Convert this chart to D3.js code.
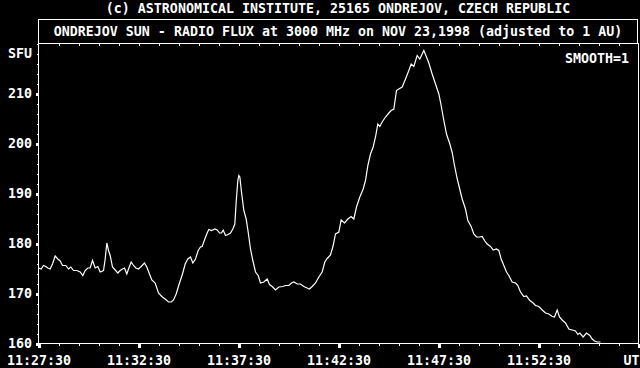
<!DOCTYPE html>
<html><head><meta charset="utf-8">
<script src="https://cdn.jsdelivr.net/npm/d3@7"></script>
<style>
html,body{margin:0;padding:0;background:#000;}
svg{display:block;}
text{font-family:"DejaVu Sans Mono",monospace;font-weight:bold;font-size:13.3px;fill:#fff;}
</style></head>
<body>
<svg id="c" width="640" height="368"></svg>
<script>
const credit = "(c) ASTRONOMICAL INSTITUTE, 25165 ONDREJOV, CZECH REPUBLIC";
const title = "ONDREJOV SUN - RADIO FLUX at 3000 MHz on NOV 23,1998 (adjusted to 1 AU)";
const yUnit = "SFU";
const xUnit = "UT";
const smoothLabel = "SMOOTH=1";
const timeDomain = ["11:27:30", "11:57:30"];
const fluxDomain = [160, 220];
const fluxTicks = [160, 170, 180, 190, 200, 210];
const timeTicks = ["11:27:30","11:32:30","11:37:30","11:42:30","11:47:30","11:52:30"];

const times = [
"11:27:30","11:27:38","11:27:45","11:27:52","11:27:58","11:28:05","11:28:12","11:28:20","11:28:28","11:28:35",
"11:28:42","11:28:52","11:29:00","11:29:07","11:29:15","11:29:25","11:29:35","11:29:43","11:29:50","11:29:58",
"11:30:05","11:30:12","11:30:20","11:30:28","11:30:35","11:30:45","11:30:50","11:30:55","11:31:00","11:31:05",
"11:31:12","11:31:20","11:31:28","11:31:35","11:31:42","11:31:48","11:31:55","11:32:00","11:32:08","11:32:15",
"11:32:22","11:32:30","11:32:38","11:32:48","11:32:55","11:33:03","11:33:10","11:33:20","11:33:30","11:33:40",
"11:33:50","11:34:00","11:34:08","11:34:15","11:34:23","11:34:32","11:34:42","11:34:50","11:34:58","11:35:06",
"11:35:13","11:35:21","11:35:29","11:35:36","11:35:41","11:35:49","11:35:56","11:36:01","11:36:09","11:36:19",
"11:36:26","11:36:33","11:36:39","11:36:44","11:36:51","11:36:59","11:37:06","11:37:13","11:37:19","11:37:23",
"11:37:28","11:37:31","11:37:34","11:37:39","11:37:46","11:37:53","11:37:59","11:38:06","11:38:13","11:38:21",
"11:38:29","11:38:36","11:38:46","11:38:56","11:39:03","11:39:11","11:39:21","11:39:31","11:39:43","11:39:51",
"11:40:01","11:40:09","11:40:16","11:40:26","11:40:36","11:40:46","11:40:56","11:41:03","11:41:11","11:41:21",
"11:41:31","11:41:41","11:41:49","11:41:56","11:42:06","11:42:14","11:42:21","11:42:31","11:42:38","11:42:48",
"11:42:58","11:43:08","11:43:16","11:43:24","11:43:34","11:43:44","11:43:51","11:43:58","11:44:06","11:44:14",
"11:44:21","11:44:28","11:44:34","11:44:41","11:44:51","11:45:01","11:45:08","11:45:16","11:45:24","11:45:31",
"11:45:41","11:45:51","11:46:01","11:46:08","11:46:16","11:46:26","11:46:34","11:46:41","11:46:46","11:46:54",
"11:47:01","11:47:11","11:47:21","11:47:31","11:47:38","11:47:46","11:47:54","11:48:04","11:48:11","11:48:18",
"11:48:26","11:48:34","11:48:41","11:48:51","11:48:58","11:49:08","11:49:16","11:49:24","11:49:34","11:49:41",
"11:49:48","11:49:56","11:50:06","11:50:14","11:50:24","11:50:31","11:50:38","11:50:46","11:50:54","11:51:01",
"11:51:11","11:51:21","11:51:28","11:51:36","11:51:46","11:51:54","11:52:04","11:52:14","11:52:21","11:52:31",
"11:52:41","11:52:51","11:53:01","11:53:11","11:53:18","11:53:26","11:53:33","11:53:41","11:53:51","11:54:01",
"11:54:11","11:54:21","11:54:28","11:54:34","11:54:44","11:54:54","11:55:04","11:55:11","11:55:18","11:55:26",
"11:55:36"];

const flux = [
175.1,174.9,175.6,175.4,175.1,174.9,175.9,177.5,176.9,176.5,
175.6,175.6,174.9,175.3,174.6,174.6,174.3,173.6,174.6,175.1,
175.1,176.6,175.1,175.4,174.3,174.6,176.9,180.1,178.6,177.6,
175.3,174.7,174.1,174.6,174.9,175.1,173.9,174.9,176.3,175.6,
175.1,174.9,175.4,176.1,175.3,173.9,172.7,172.1,170.1,169.4,
168.9,168.3,168.3,168.7,169.9,171.9,173.9,175.9,176.9,177.3,
176.1,176.9,178.6,179.3,179.4,180.9,182.1,182.8,182.6,182.9,
182.7,182.1,182.1,182.7,181.6,181.8,182.1,182.9,183.9,188.3,
192.6,193.6,193.3,190.3,186.6,184.9,182.3,178.9,176.6,174.3,
173.6,172.1,172.3,172.9,171.8,171.4,170.7,171.3,171.4,171.6,
171.6,172.1,172.3,171.9,171.9,171.4,171.1,170.9,171.4,172.1,
173.3,174.3,176.3,177.0,177.7,179.6,181.9,182.3,184.7,184.1,
184.9,185.4,184.9,187.3,189.3,190.9,192.6,195.6,197.9,199.3,
201.3,203.9,203.4,204.3,205.3,206.1,206.6,206.9,210.6,210.9,
211.3,212.9,214.6,215.9,215.4,217.6,216.9,217.9,218.6,217.3,
216.1,213.9,211.9,209.9,207.6,204.6,201.9,199.9,198.2,195.6,
193.0,190.8,188.9,186.9,184.6,183.4,181.9,181.3,181.3,181.4,
180.6,179.9,179.4,178.7,178.9,178.6,176.9,175.6,174.3,173.6,
172.3,172.1,171.6,170.3,169.4,169.5,168.6,168.1,167.6,167.4,
166.7,166.1,165.9,165.4,165.3,166.7,165.3,164.7,164.1,162.9,
162.7,162.5,161.8,162.1,161.3,162.1,161.6,160.9,160.5,160.3,
160.3];

const parse = d3.timeParse("%H:%M:%S");
const fmt = d3.timeFormat("%H:%M:%S");
const svg = d3.select("#c");
const W = 640, H = 368;
svg.append("rect").attr("width", W).attr("height", H).attr("fill", "#000");

const x = d3.scaleTime().domain(timeDomain.map(parse)).range([38.5, 638.5]);
const y = d3.scaleLinear().domain(fluxDomain).range([343.5, 43.5]);

// credit line
svg.append("text").attr("x", 338).attr("y", 13).attr("text-anchor", "middle").text(credit);
// title box
svg.append("rect").attr("x", 38.5).attr("y", 19.5).attr("width", 599).attr("height", 24)
  .attr("fill", "none").attr("stroke", "#fff").attr("stroke-width", 1);
svg.append("text").attr("x", 338).attr("y", 36).attr("text-anchor", "middle").text(title);

// frame
svg.append("rect").attr("x", 38.5).attr("y", 43.5).attr("width", 600).attr("height", 300)
  .attr("fill", "none").attr("stroke", "#fff").attr("stroke-width", 1);

function styleAxis(g) {
  g.attr("font-family", null).attr("font-size", null);
  g.select(".domain").remove();
  g.selectAll("line").attr("stroke", "#fff").attr("shape-rendering", "crispEdges");
  g.selectAll("text").attr("fill", "#fff");
}

// minute ticks
const minuteTicks = d3.range(0, 31).map(i => new Date(x.domain()[0].getTime() + i * 60000));
const majorTimes = timeTicks.map(parse).concat([x.domain()[1]]);

svg.append("g").attr("transform", "translate(0,343.5)")
  .call(d3.axisBottom(x).tickValues(minuteTicks).tickSizeInner(2.5).tickSizeOuter(0).tickFormat(""))
  .call(styleAxis);
const gb = svg.append("g").attr("transform", "translate(0,343.5)")
  .call(d3.axisBottom(x).tickValues(majorTimes).tickSizeInner(4).tickSizeOuter(0).tickPadding(8)
    .tickFormat((d, i) => i < timeTicks.length ? fmt(d) : xUnit))
  .call(styleAxis);
gb.selectAll("line").attr("stroke-width", 3);
gb.selectAll(".tick").filter((d, i) => i === timeTicks.length).select("text")
  .attr("text-anchor", "end").attr("x", 0.5);

svg.append("g").attr("transform", "translate(0,43.5)")
  .call(d3.axisTop(x).tickValues(minuteTicks.slice(1, -1)).tickSizeInner(-2.5).tickSizeOuter(0).tickFormat(""))
  .call(styleAxis);

// y axis
svg.append("g").attr("transform", "translate(38.5,0)")
  .call(d3.axisLeft(y).tickValues(d3.range(160, 221, 2)).tickSizeInner(2).tickSizeOuter(0).tickFormat(""))
  .call(styleAxis);
const gl = svg.append("g").attr("transform", "translate(38.5,0)")
  .call(d3.axisLeft(y).tickValues(fluxTicks).tickSizeInner(3).tickSizeOuter(0).tickPadding(3.5))
  .call(styleAxis);
gl.selectAll("line").attr("stroke-width", 3);
svg.append("text").attr("x", 32).attr("y", y(218)).attr("dy", "0.35em")
  .attr("text-anchor", "end").text(yUnit);

svg.append("text").attr("x", 629).attr("y", 63).attr("text-anchor", "end").text(smoothLabel);

// data line
const data = times.map((t, i) => ({t: parse(t), v: flux[i]}));
svg.append("path").datum(data)
  .attr("fill", "none").attr("stroke", "#fff").attr("stroke-width", 1.2)
  .attr("d", d3.line().x(d => x(d.t)).y(d => y(d.v)));
</script>
</body></html>
